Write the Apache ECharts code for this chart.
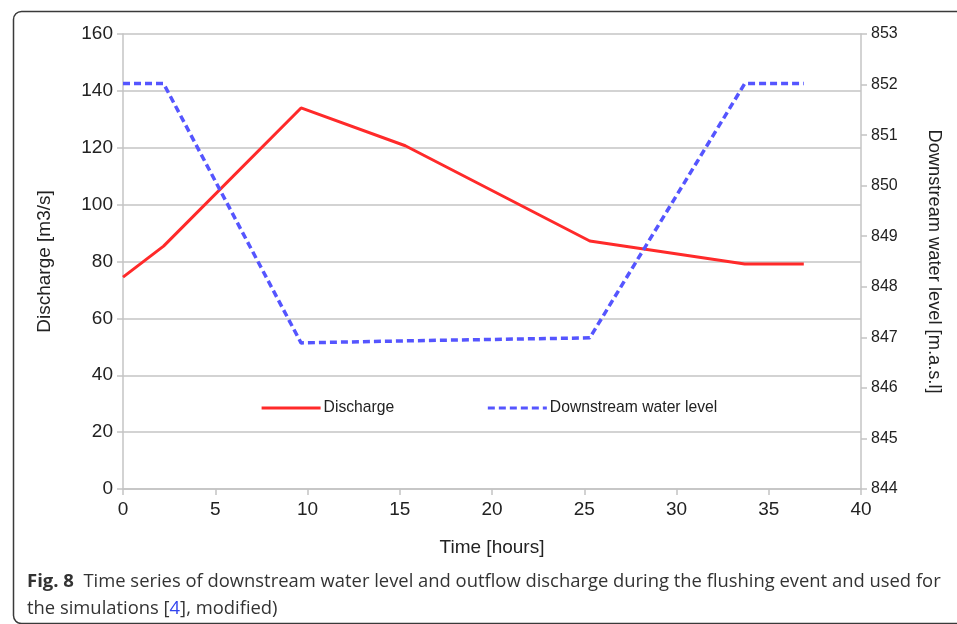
<!DOCTYPE html>
<html>
<head>
<meta charset="utf-8">
<script src="https://cdn.jsdelivr.net/npm/echarts@6/dist/echarts.min.js"></script>
<style>
html,body{margin:0;padding:0;background:#fff;}
#chart{width:957px;height:624px;}
</style>
</head>
<body>
<div id="chart"></div>
<script>
// Time [hours]
const dischargeTime = [0, 2.2, 9.65, 15.3, 25.3, 33.7, 36.9];
const dischargeValues = [74.5, 85.4, 134, 120.7, 87.2, 79.1, 79.1];
const levelTime = [0, 2.2, 9.65, 15.3, 25.3, 33.7, 36.9];
const levelValues = [852.02, 852.02, 846.89, 846.93, 846.99, 852.02, 852.02];
const xTicks = [0, 5, 10, 15, 20, 25, 30, 35, 40];
const leftTicks = [0, 20, 40, 60, 80, 100, 120, 140, 160];
const rightTicks = [844, 845, 846, 847, 848, 849, 850, 851, 852, 853];

const chart = echarts.init(document.getElementById('chart'), null, {renderer: 'canvas'});
const axisFont = 'Liberation Sans';
const gridCol = '#c4c4c4';

const option = {
  animation: false,
  backgroundColor: '#ffffff',
  grid: {left: 123, right: 96, top: 34, bottom: 135, containLabel: false},
  legend: {
    left: 260, top: 400, padding: 0,
    itemWidth: 59, itemHeight: 14, itemGap: 92,
    itemStyle: {opacity: 0},
    lineStyle: {width: 3.2},
    textStyle: {fontFamily: axisFont, fontSize: 15.7, color: '#222', padding: [0,0,0,-2]},
    data: ['Discharge', 'Downstream water level']
  },
  xAxis: {
    type: 'value', min: xTicks[0], max: xTicks[xTicks.length-1], interval: 5,
    name: 'Time [hours]', nameLocation: 'middle', nameGap: 49,
    nameTextStyle: {fontFamily: axisFont, fontSize: 19, color: '#222'},
    axisLine: {show: true, lineStyle: {color: gridCol, width: 1.5}},
    axisTick: {show: true, length: 6, lineStyle: {color: gridCol, width: 1.5}},
    axisLabel: {fontFamily: axisFont, fontSize: 19, color: '#222', margin: 11},
    splitLine: {show: false}
  },
  yAxis: [{
    type: 'value', min: leftTicks[0], max: leftTicks[leftTicks.length-1], interval: 20,
    name: 'Discharge [m3/s]', nameLocation: 'middle', nameGap: 69, nameRotate: 90,
    nameTextStyle: {fontFamily: axisFont, fontSize: 19, color: '#222'},
    axisLine: {show: true, lineStyle: {color: gridCol, width: 1.5}},
    axisTick: {show: true, length: 6, lineStyle: {color: gridCol, width: 1.5}},
    axisLabel: {fontFamily: axisFont, fontSize: 19, color: '#222', margin: 10},
    splitLine: {show: true, lineStyle: {color: gridCol, width: 1.5}}
  }, {
    type: 'value', position: 'right', min: rightTicks[0], max: rightTicks[rightTicks.length-1], interval: 1,
    name: 'Downstream water level [m.a.s.l]', nameLocation: 'middle', nameGap: 64, nameRotate: -90,
    nameTextStyle: {fontFamily: axisFont, fontSize: 18.3, color: '#222'},
    axisLine: {show: true, lineStyle: {color: gridCol, width: 1.5}},
    axisTick: {show: true, length: 6, lineStyle: {color: gridCol, width: 1.5}},
    axisLabel: {fontFamily: axisFont, fontSize: 16, color: '#222', margin: 10, verticalAlign: 'middle'},
    splitLine: {show: false}
  }],
  series: [{
    name: 'Discharge', type: 'line', yAxisIndex: 0,
    data: dischargeTime.map((t, i) => [t, dischargeValues[i]]),
    symbol: 'none', color: '#ff2a2a',
    lineStyle: {color: '#ff2a2a', width: 3}
  }, {
    name: 'Downstream water level', type: 'line', yAxisIndex: 1,
    data: levelTime.map((t, i) => [t, levelValues[i]]),
    symbol: 'none', color: '#5555ff',
    lineStyle: {color: '#5555ff', width: 3.5, type: [7, 4]}
  }],
  graphic: [{
    type: 'rect', left: 11, top: 9, silent: true,
    shape: {width: 980, height: 612, r: 8},
    style: {fill: 'none', stroke: '#3a3a3a', lineWidth: 1.5}
  }, {
    type: 'text', left: 27, top: 572,
    style: {
      text: '{b|Fig. 8}{n|  Time series of downstream water level and outflow discharge during the flushing event and used for}',
      rich: {
        b: {fontFamily: 'Open Sans', fontWeight: 'bold', fontSize: 18.5, fill: '#333'},
        n: {fontFamily: 'Open Sans', fontSize: 18.4, fill: '#333'}
      }
    }
  }, {
    type: 'text', left: 27, top: 600,
    style: {
      text: '{n|the simulations [}{l|4}{n|], modified)}',
      rich: {
        n: {fontFamily: 'Open Sans', fontSize: 18.4, fill: '#333'},
        l: {fontFamily: 'Open Sans', fontSize: 18.4, fill: '#3344ee'}
      }
    }
  }]
};
chart.setOption(option);
</script>
</body>
</html>
